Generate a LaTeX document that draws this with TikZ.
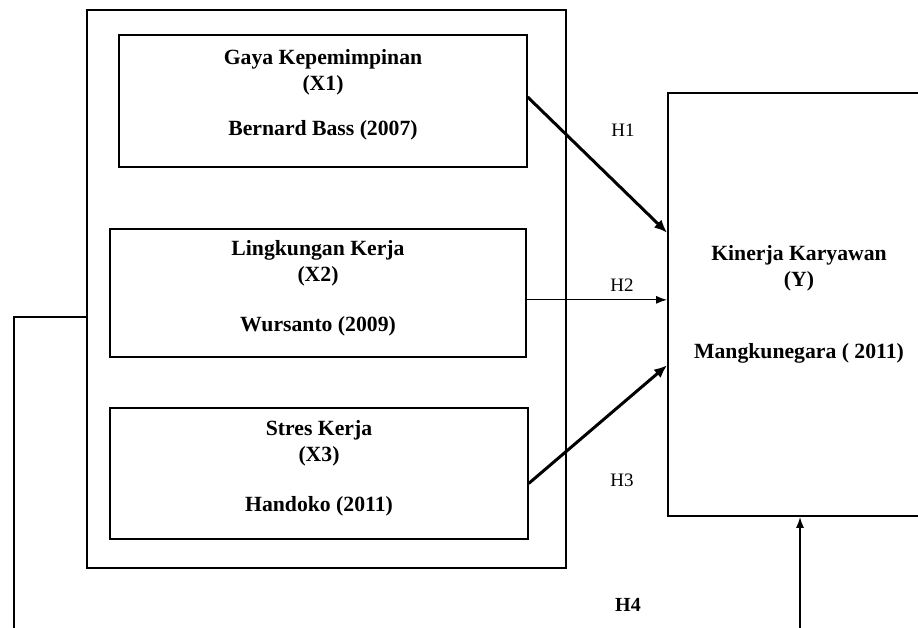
\documentclass[tikz,border=0pt]{standalone}
\usepackage{fontspec}
\setmainfont{Liberation Serif}
\usetikzlibrary{
    arrows.meta,
    positioning,
    calc
}

\begin{document}
\begin{tikzpicture}[
    x=1pt, y=-1pt,
    box/.style={rectangle, draw, line width=1.3pt, inner sep=0pt},
    vartext/.style={align=center, inner sep=0pt, anchor=north, font=\fontsize{21.7}{26}\selectfont\bfseries},
    hyp/.style={inner sep=0pt, font=\fontsize{19}{22}\selectfont},
    arrow/.style={-{Latex[length=11pt, width=8pt]}, line width=1.3pt},
    heavy/.style={-{Latex[length=13pt, width=11pt]}, line width=3pt}
]
\useasboundingbox (0,0) rectangle (918,627);
\clip (0,0) rectangle (918,627);

% Group of independent variables
\node[box, line width=1.8pt, minimum width=479, minimum height=558] (grp) at (326.5,289) {};

% Independent variables
\node[box, minimum width=408, minimum height=132] (x1) at (323,101) {};
\node[vartext] (x1txt) at (323,49) {Gaya Kepemimpinan\\(X1)\\[19pt]Bernard Bass (2007)};

\node[box, minimum width=416, minimum height=128] (x2) at (318,293) {};
\node[vartext] (x2txt) at (318,240) {Lingkungan Kerja\\(X2)\\[24pt]Wursanto (2009)};

\node[box, minimum width=418, minimum height=131] (x3) at (319,473.5) {};
\node[vartext] (x3txt) at (319,420) {Stres Kerja\\(X3)\\[24pt]Handoko (2011)};

% Dependent variable (runs past the right edge)
\node[box, line width=1.8pt, minimum width=262, minimum height=423] (yv) at (799,304.5) {};
\node[vartext] (yvtxt) at (799,245) {Kinerja Karyawan\\(Y)\\[46pt]Mangkunegara ( 2011)};

% Arrow ends on the left side of Y
\coordinate (h1end) at ($(yv.north west)!0.331!(yv.south west)$);
\coordinate (h2end) at ($(yv.north west)!0.489!(yv.south west)$);
\coordinate (h3end) at ($(yv.north west)!0.643!(yv.south west)$);

% Partial effects
\draw[heavy] ($(x1.east)+(0,-4)$) -- (h1end);
\draw[arrow] (x2.east |- h2end) -- (h2end);
\draw[heavy] ($(x3.east)+(0,10)$) -- (h3end);

\node[hyp] (h1) at (623,130) {H1};
\node[hyp] (h2) at (622,285) {H2};
\node[hyp] (h3) at (622,480) {H3};

% Simultaneous effect
\coordinate (h4start) at ($(grp.north west)!0.55!(grp.south west)$);
\coordinate (h4left) at (14,640);
\coordinate (h4right) at (800,640);
\draw[line width=1.5pt] (h4start) -| (h4left);
\draw[arrow, line width=1.5pt] (h4right) -- (h4right |- yv.south);
\node[hyp, font=\fontsize{20}{22}\selectfont\bfseries] (h4) at (628,605) {H4};

\end{tikzpicture}
\end{document}
